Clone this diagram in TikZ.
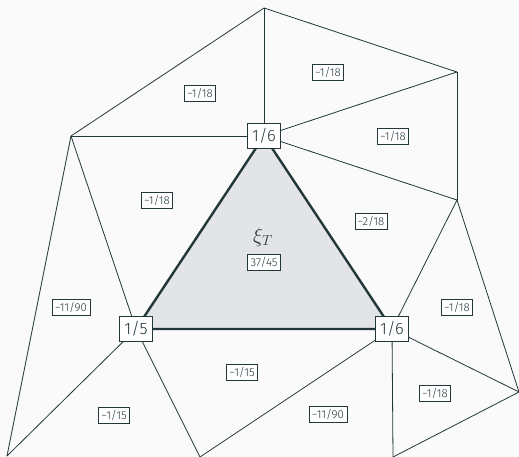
\documentclass[tikz,border=0pt]{standalone}
\usepackage{fontspec}
\setsansfont{Fira Sans}[UprightFont = * Light]
\renewcommand{\familydefault}{\sfdefault}
\usetikzlibrary{positioning}
\definecolor{mDark}{HTML}{23373B}
\definecolor{mBg}{HTML}{FAFAFA}
\definecolor{mCell}{HTML}{E3E4E5}

\begin{document}
\begin{tikzpicture}[
  x = 1pt, y = -1pt,
  edge/.style = {draw=mDark, line width=0.8pt},
  cell/.style = {draw=mDark, line width=2.4pt, fill=mCell, line join=round},
  vtx/.style  = {rectangle, draw=mDark, fill=white, line width=0.6pt,
                 inner sep=5pt, text=mDark, font=\fontsize{16.5}{18}\selectfont},
  wt/.style   = {rectangle, draw=mDark, fill=white, line width=0.6pt,
                 inner sep=2.8pt, text=mDark, font=\fontsize{11.5}{13}\selectfont}
]
\fill[mBg] (0,0) rectangle (519,457);
\useasboundingbox (0,0) rectangle (519,457);

% mesh vertices
\coordinate (a)  at (264,136);
\coordinate (b)  at (136,329);
\coordinate (c)  at (392,329);
\coordinate (p1) at (264,8);
\coordinate (p2) at (71,136);
\coordinate (p3) at (457,72);
\coordinate (p4) at (457,200);
\coordinate (p5) at (7,456);
\coordinate (p6) at (200,457);
\coordinate (p7) at (393,457);
\coordinate (p8) at (519,392);

% outer edges
\draw[edge] (p1) -- (a);
\draw[edge] (p1) -- (p2);
\draw[edge] (p1) -- (p3);
\draw[edge] (p2) -- (a);
\draw[edge] (p3) -- (a);
\draw[edge] (p4) -- (a);
\draw[edge] (p3) -- (p4);
\draw[edge] (p2) -- (p5);
\draw[edge] (p2) -- (b);
\draw[edge] (b)  -- (p5);
\draw[edge] (b)  -- (p6);
\draw[edge] (p6) -- (c);
\draw[edge] (p4) -- (c);
\draw[edge] (p4) -- (p8);
\draw[edge] (c)  -- (p7);
\draw[edge] (c)  -- (p8);
\draw[edge] (p7) -- (p8);

% the cell T
\draw[cell] (a) -- (b) -- (c) -- cycle;

% vertex values
\node[vtx] (va) at (a) {1/6};
\node[vtx] (vb) at (b) {1/5};
\node[vtx] (vc) at (c) {1/6};

% cell weights
\node[text=mDark, font=\fontsize{22}{26}\selectfont] (xi) at (263,237) {$\xi_T$};
\node[wt] (wT)  at (264,262) {37/45};
\node[wt] (w1)  at (200,93)  {−1/18};
\node[wt] (w2)  at (328,72)  {−1/18};
\node[wt] (w3)  at (393,136) {−1/18};
\node[wt] (w4)  at (157,200) {−1/18};
\node[wt] (w5)  at (371,221) {−2/18};
\node[wt] (w6)  at (71,307)  {−11/90};
\node[wt] (w7)  at (457,307) {−1/18};
\node[wt] (w8)  at (242,372) {−1/15};
\node[wt] (w9)  at (114,415) {−1/15};
\node[wt] (w10) at (435,393) {−1/18};
\node[wt] (w11) at (328,414) {−11/90};
\end{tikzpicture}
\end{document}
